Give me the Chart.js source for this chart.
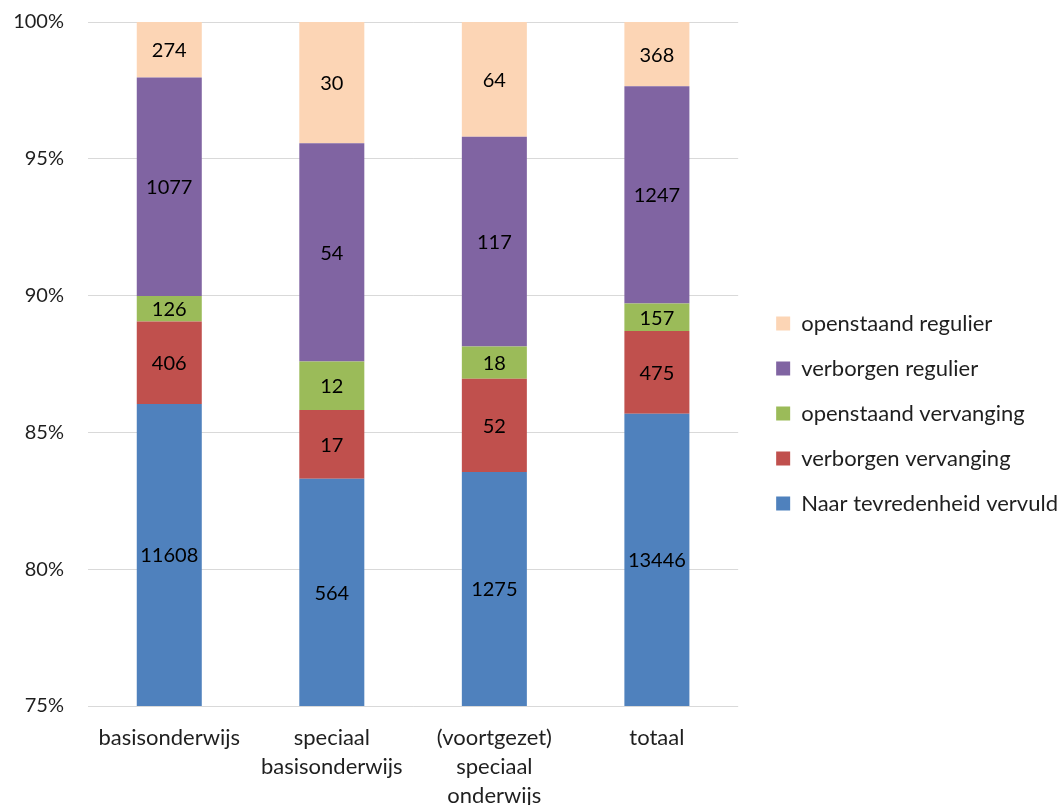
<!DOCTYPE html>
<html>
<head>
<meta charset="utf-8">
<script src="https://cdn.jsdelivr.net/npm/chart.js@4.4.1/dist/chart.umd.min.js"></script>
<style>
  html, body { margin: 0; padding: 0; background: #ffffff; }
  #wrap { width: 1062px; height: 805px; position: relative; }
</style>
</head>
<body>
<div id="wrap"><canvas id="c"></canvas></div>
<script>
// ---- data ----
const categories = [
  ['basisonderwijs'],
  ['speciaal', 'basisonderwijs'],
  ['(voortgezet)', 'speciaal', 'onderwijs'],
  ['totaal']
];
const seriesNames = [
  'Naar tevredenheid vervuld',
  'verborgen vervanging',
  'openstaand vervanging',
  'verborgen regulier',
  'openstaand regulier'
];
const naarTevredenheidVervuld = [11608, 564, 1275, 13446];
const verborgenVervanging     = [406, 17, 52, 475];
const openstaandVervanging    = [126, 12, 18, 157];
const verborgenRegulier       = [1077, 54, 117, 1247];
const openstaandRegulier      = [274, 30, 64, 368];
const yTicks = [75, 80, 85, 90, 95, 100];

const seriesCounts = [naarTevredenheidVervuld, verborgenVervanging, openstaandVervanging, verborgenRegulier, openstaandRegulier];
const colors = ['#4F81BD', '#C0504D', '#9BBB59', '#8064A2', '#FCD5B5'];

const totals = categories.map((_, i) => seriesCounts.reduce((s, arr) => s + arr[i], 0));

const FONT = 'Lato, "Open Sans", sans-serif';
const TEXT = '#1f1f1f';

const datasets = seriesCounts.map((arr, k) => ({
  label: seriesNames[k],
  data: arr.map((v, i) => v / totals[i] * 100),
  counts: arr,
  backgroundColor: colors[k],
  borderWidth: 0,
  categoryPercentage: 1.0,
  barPercentage: 0.4
}));

const valueLabels = {
  id: 'valueLabels',
  afterDatasetsDraw(chart) {
    const { ctx, chartArea } = chart;
    ctx.save();
    ctx.font = '20px ' + FONT;
    ctx.fillStyle = '#000';
    ctx.textAlign = 'center';
    ctx.textBaseline = 'middle';
    chart.data.datasets.forEach((ds, di) => {
      const meta = chart.getDatasetMeta(di);
      meta.data.forEach((el, i) => {
        const top = Math.max(Math.min(el.y, el.base), chartArea.top);
        const bot = Math.min(Math.max(el.y, el.base), chartArea.bottom);
        if (bot - top < 4) return;
        ctx.fillText(String(ds.counts[i]), el.x, (top + bot) / 2 + 1);
      });
    });
    ctx.restore();
  }
};

new Chart(document.getElementById('c'), {
  type: 'bar',
  data: { labels: categories, datasets },
  options: {
    responsive: true,
    maintainAspectRatio: false,
    animation: false,
    layout: { padding: { top: 22, left: 12, right: -6, bottom: 0 } },
    plugins: {
      tooltip: { enabled: false },
      legend: {
        position: 'right',
        align: 'center',
        reverse: true,
        maxWidth: 420,
        labels: {
          boxWidth: 14,
          boxHeight: 14,
          padding: 23,
          color: TEXT,
          font: { family: FONT, size: 22 }
        }
      }
    },
    scales: {
      x: {
        stacked: true,
        grid: { display: false, drawTicks: false },
        border: { display: false },
        ticks: {
          color: TEXT,
          font: { family: FONT, size: 22, lineHeight: 1.32 },
          padding: 17,
          maxRotation: 0,
          autoSkip: false
        },
        afterFit: s => { s.height = 99; }
      },
      y: {
        stacked: true,
        min: 75,
        max: 100,
        afterBuildTicks: s => { s.ticks = yTicks.map(v => ({ value: v })); },
        grid: { color: '#d9d9d9', lineWidth: 1, drawTicks: false },
        border: { display: false },
        ticks: {
          color: TEXT,
          font: { family: FONT, size: 20 },
          padding: 24,
          callback: v => v + '%'
        },
        afterFit: s => { s.width = 76; s.paddingTop = 10; s.paddingBottom = 10; }
      },
      yGap: {
        position: 'right',
        display: true,
        grid: { display: false, drawTicks: false },
        border: { display: false },
        ticks: { display: false },
        afterFit: s => { s.width = 15; s.paddingTop = 0; s.paddingBottom = 0; }
      }
    }
  },
  plugins: [valueLabels]
});
</script>
</body>
</html>
